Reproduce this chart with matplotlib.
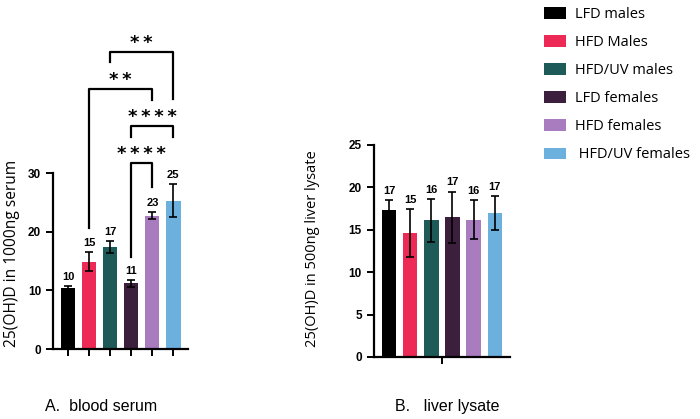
import numpy as np
import matplotlib.pyplot as plt
from matplotlib.patches import Patch

plt.rcParams['font.family'] = ['Liberation Sans', 'DejaVu Sans']

# grupos e cores
grupos = ['LFD males', 'HFD Males', 'HFD/UV males', 'LFD females', 'HFD females', ' HFD/UV females']
cores = ['#000000', '#ec2a55', '#1e5a57', '#3b1f3c', '#a97cc0', '#6cb0dd']

# A. soro
soro_media = [10.4, 14.9, 17.4, 11.2, 22.7, 25.3]
soro_erro = [0.3, 1.6, 1.0, 0.6, 0.6, 2.8]
soro_rotulos = ['10', '15', '17', '11', '23', '25']

# comparacoes: (grupo1, grupo2, topo, perna esquerda, perna direita, texto)
comparacoes = [
    (3, 4, 31.7, 15.7, 27.6, '****'),
    (3, 5, 38.0, 36.1, 36.1, '****'),
    (1, 4, 44.3, 20.6, 42.4, '**'),
    (2, 5, 50.6, 48.9, 42.6, '**'),
]

# B. figado
figado_media = [17.35, 14.6, 16.1, 16.5, 16.2, 17.0]
figado_erro = [1.15, 2.8, 2.5, 3.0, 2.3, 2.0]
figado_rotulos = ['17', '15', '16', '17', '16', '17']


def barras(ax, media, erro, rotulos):
    x = np.arange(len(media))
    ax.bar(x, media, width=0.68, color=cores)
    ax.errorbar(x, media, yerr=erro, fmt='none', ecolor='black',
                elinewidth=1.2, capsize=3, capthick=1.2)
    for xi, m, e, r in zip(x, media, erro, rotulos):
        ax.annotate(r, (xi, m + e), xytext=(0, 3), textcoords='offset points',
                    ha='center', va='bottom', fontsize=8, fontweight='bold')
    for s in ['top', 'right']:
        ax.spines[s].set_visible(False)
    for s in ['left', 'bottom']:
        ax.spines[s].set_linewidth(1.6)
    ax.tick_params(width=1.4, length=5, labelsize=8.5)
    ax.set_xlim(-0.72, 5.7)
    return x


fig = plt.figure(figsize=(7, 4.19), dpi=100)

# painel A
axA = fig.add_axes([0.0757, 0.167, 0.193, 0.770])
x = barras(axA, soro_media, soro_erro, soro_rotulos)
axA.set_ylim(0, 55)
axA.spines['left'].set_bounds(0, 30)
axA.set_yticks([0, 10, 20, 30])
axA.set_xticks(x)
axA.set_xticklabels([])
for lab in axA.get_yticklabels():
    lab.set_fontweight('bold')
for g1, g2, topo, pe, pd, txt in comparacoes:
    axA.plot([g1, g1, g2, g2], [pe, topo, topo, pd], color='black', lw=1.6,
             clip_on=False)
    axA.text((g1 + g2) / 2, topo + 0.05, '\u2009'.join(txt), ha='center',
             va='bottom', fontsize=13, fontweight='bold', family='DejaVu Sans')
fig.text(0.017, 0.396, '25(OH)D in 1000ng serum', rotation=90, ha='center',
         va='center', fontsize=11.2, family=['Open Sans', 'DejaVu Sans'])

# painel B
axB = fig.add_axes([0.534, 0.148, 0.194, 0.506])
x = barras(axB, figado_media, figado_erro, figado_rotulos)
axB.set_ylim(0, 25)
axB.set_yticks([0, 5, 10, 15, 20, 25])
axB.set_xticks([2.5])
axB.set_xticklabels([''])
for lab in axB.get_yticklabels():
    lab.set_fontweight('bold')
fig.text(0.447, 0.406, '25(OH)D in 500ng liver lysate', rotation=90, ha='center',
         va='center', fontsize=10.5, family=['Open Sans', 'DejaVu Sans'])

# legenda
handles = [Patch(facecolor=c, edgecolor='none') for c in cores]
fig.legend(handles, grupos, loc='upper left', bbox_to_anchor=(0.759, 1.015),
           frameon=False, handlelength=1.5, handleheight=0.85,
           labelspacing=0.9, handletextpad=0.6,
           prop={'family': ['Open Sans', 'DejaVu Sans'], 'size': 10.5})

fig.text(0.064, 0.03, 'A.  blood serum', fontsize=11.5, va='center')
fig.text(0.564, 0.03, 'B.   liver lysate', fontsize=11.5, va='center')

fig.savefig('out.png', dpi=100)
